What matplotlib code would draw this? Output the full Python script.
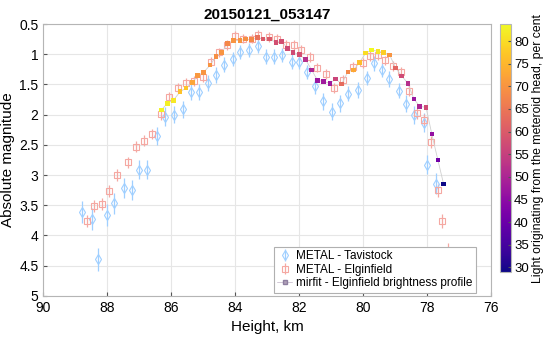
import numpy as np
import matplotlib
matplotlib.use("Agg")
import matplotlib.pyplot as plt

plt.rcParams['font.family'] = ['Liberation Sans', 'DejaVu Sans']

# METAL - Tavistock
tav_h = [88.79, 88.48, 88.28, 88.00, 87.78, 87.48, 87.22, 87.02, 86.75, 86.43,
         86.19, 85.90, 85.64, 85.38, 85.12, 84.86, 84.60, 84.34, 84.07, 83.84,
         83.55, 83.29, 83.03, 82.77, 82.52, 82.22, 81.99, 81.76, 81.51, 81.24,
         80.97, 80.71, 80.45, 80.14, 79.88, 79.65, 79.41, 79.17, 78.88, 78.65,
         78.39, 78.07, 77.98, 77.72]
tav_mag = [3.61, 3.73, 4.39, 3.66, 3.47, 3.21, 3.25, 2.91, 2.91, 2.35,
           2.03, 2.00, 1.91, 1.63, 1.62, 1.48, 1.34, 1.17, 1.08, 0.96,
           0.93, 0.86, 1.04, 1.04, 1.01, 1.12, 1.12, 1.29, 1.52, 1.78,
           1.95, 1.81, 1.65, 1.59, 1.39, 1.15, 1.26, 1.41, 1.60, 1.82,
           2.00, 2.13, 2.83, 3.14]
tav_err = [0.18, 0.18, 0.19, 0.18, 0.17, 0.17, 0.17, 0.16, 0.16, 0.15,
           0.15, 0.14, 0.14, 0.13, 0.13, 0.13, 0.13, 0.12, 0.12, 0.12,
           0.12, 0.12, 0.12, 0.12, 0.12, 0.12, 0.12, 0.12, 0.13, 0.14,
           0.14, 0.14, 0.13, 0.13, 0.12, 0.12, 0.12, 0.13, 0.13, 0.14,
           0.15, 0.15, 0.16, 0.17]

# METAL - Elginfield
elg_h = [88.64, 88.42, 88.17, 87.94, 87.69, 87.35, 87.09, 86.85, 86.60, 86.33,
         86.08, 85.80, 85.54, 85.29, 85.01, 84.74, 84.50, 84.25, 84.00, 83.74,
         83.48, 83.27, 82.94, 82.68, 82.41, 82.15, 81.93, 81.65, 81.42, 81.15,
         80.89, 80.61, 80.32, 80.00, 79.77, 79.53, 79.31, 79.05, 78.79, 78.54,
         78.29, 78.07, 77.86, 77.65, 77.53, 77.32]
elg_mag = [3.76, 3.51, 3.48, 3.27, 3.00, 2.79, 2.53, 2.43, 2.32, 1.99,
           1.70, 1.56, 1.47, 1.44, 1.38, 1.12, 0.97, 0.85, 0.69, 0.74,
           0.74, 0.68, 0.71, 0.75, 0.85, 0.85, 0.93, 1.05, 1.22, 1.33,
           1.56, 1.43, 1.21, 1.14, 1.03, 1.01, 1.10, 1.19, 1.29, 1.60,
           1.98, 2.08, 2.45, 3.25, 3.76, 4.30]
elg_err = [0.10, 0.10, 0.10, 0.10, 0.10, 0.09, 0.09, 0.09, 0.09, 0.09,
           0.08, 0.08, 0.08, 0.08, 0.08, 0.08, 0.08, 0.08, 0.08, 0.08,
           0.08, 0.08, 0.08, 0.08, 0.08, 0.08, 0.08, 0.08, 0.08, 0.08,
           0.08, 0.08, 0.08, 0.08, 0.08, 0.08, 0.08, 0.08, 0.08, 0.09,
           0.09, 0.09, 0.10, 0.11, 0.12, 0.17]

# mirfit - Elginfield brightness profile
fit_h = [86.30, 86.12, 85.93, 85.72, 85.54, 85.34, 85.17, 84.99, 84.78, 84.60,
         84.42, 84.23, 84.05, 83.84, 83.67, 83.48, 83.29, 83.12, 82.93, 82.72,
         82.54, 82.35, 82.18, 81.99, 81.79, 81.60, 81.42, 81.24, 81.03, 80.85,
         80.66, 80.47, 80.29, 80.11, 79.91, 79.72, 79.53, 79.35, 79.16, 78.97,
         78.78, 78.59, 78.40, 78.22, 78.02, 77.84, 77.65, 77.47]
fit_mag = [1.92, 1.81, 1.76, 1.62, 1.56, 1.47, 1.35, 1.30, 1.18, 1.04,
           0.97, 0.82, 0.77, 0.77, 0.75, 0.76, 0.72, 0.75, 0.75, 0.80,
           0.79, 0.90, 0.97, 1.00, 1.09, 1.26, 1.43, 1.45, 1.48, 1.41,
           1.49, 1.29, 1.26, 1.14, 0.98, 0.93, 0.95, 0.97, 1.01, 1.23,
           1.36, 1.48, 1.74, 1.86, 1.88, 2.32, 2.75, 3.15]
fit_pct = [83.0, 82.5, 81.5, 76.5, 77.0, 72.5, 70.5, 70.0, 70.0, 69.0,
           70.0, 68.0, 70.0, 70.0, 69.0, 68.0, 64.0, 60.0, 60.0, 58.0,
           58.0, 57.0, 57.0, 58.0, 52.0, 50.0, 47.0, 48.0, 48.0, 56.0,
           63.0, 68.0, 73.0, 76.0, 80.0, 83.5, 81.0, 78.0, 70.0, 62.0,
           57.0, 52.0, 47.0, 50.0, 57.0, 46.0, 41.0, 29.0]

blue = '#9fcfff'
pink = '#f5a8a2'

fig = plt.figure(figsize=(5.44, 3.37), dpi=100)
ax = fig.add_axes([0.0798, 0.122, 0.822, 0.8065])

h_tav = ax.errorbar(tav_h, tav_mag, yerr=tav_err, fmt='d', color=blue, mfc='none',
                    mec=blue, ms=5, mew=0.8, elinewidth=0.9, capsize=0, zorder=2)
h_elg = ax.errorbar(elg_h, elg_mag, yerr=elg_err, fmt='s', color=pink, mfc='none',
                    mec=pink, ms=4.3, mew=0.8, elinewidth=0.9, capsize=0, zorder=2)
ax.plot(fit_h, fit_mag, '-', color='#d0d0d0', lw=0.6, zorder=3)
sc = ax.scatter(fit_h, fit_mag, c=fit_pct, cmap='plasma', vmin=29, vmax=83.7,
                marker='s', s=11, linewidths=0, zorder=4)
h_fit, = ax.plot([], [], 's', color='#b0a0b8', ms=2.5, mfc='#b0a0b8', mec='#8e7fa0',
                 ls='-', lw=0.4)

ax.set_xlim(90, 76)
ax.set_ylim(5, 0.5)
ax.set_xticks([90, 88, 86, 84, 82, 80, 78, 76])
ax.set_yticks(np.arange(0.5, 5.01, 0.5))
ax.set_yticklabels(['0.5', '1', '1.5', '2', '2.5', '3', '3.5', '4', '4.5', '5'])
ax.grid(True, color='#e6e6e6', lw=0.8)
ax.set_axisbelow(True)
ax.tick_params(direction='in', length=3, labelsize=10, color='#555555')
for s in ax.spines.values():
    s.set_color('#b5b5b5')
    s.set_linewidth(0.8)

ax.set_xlabel('Height, km', fontsize=11)
ax.set_ylabel('Absolute magnitude', fontsize=11, labelpad=3)
ax.set_title('20150121_053147', fontsize=11, fontweight='bold', pad=4)

leg = ax.legend([h_tav, h_elg, h_fit],
                ['METAL - Tavistock', 'METAL - Elginfield',
                 'mirfit - Elginfield brightness profile'],
                loc='lower right', bbox_to_anchor=(0.968, 0.012), fontsize=8.5,
                frameon=True, fancybox=False, borderpad=0.3, handlelength=1.2,
                handletextpad=0.4, labelspacing=0.12, borderaxespad=0)
leg.get_frame().set_edgecolor('#b0b0b0')
leg.get_frame().set_linewidth(0.8)
leg.get_frame().set_alpha(1)

cax = fig.add_axes([0.919, 0.193, 0.021, 0.735])
cb = fig.colorbar(sc, cax=cax)
cb.set_ticks(np.arange(30, 81, 5))
cb.ax.tick_params(direction='in', length=2, labelsize=9.5, color='#555555', pad=2)
cb.outline.set_edgecolor('#b5b5b5')
cb.set_label('Light originating from the meteroid head, per cent', fontsize=8.8,
             labelpad=2)

fig.savefig('out.png', dpi=100)
